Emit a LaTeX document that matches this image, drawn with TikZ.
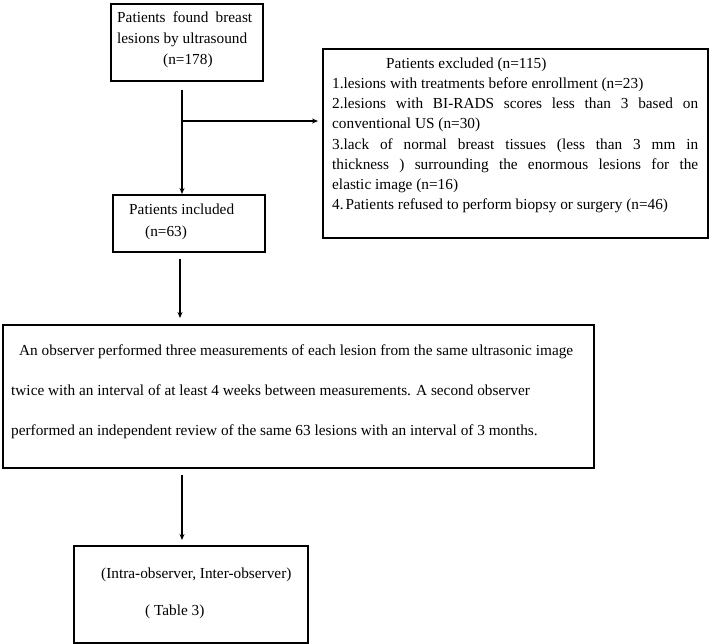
\documentclass[tikz,border=0pt]{standalone}
\usepackage{fontspec}
\setmainfont{Liberation Serif}
\usetikzlibrary{arrows.meta}
\begin{document}
\begin{tikzpicture}[x=1pt,y=-1pt,
  box/.style={draw, line width=1.6pt, inner sep=0pt, anchor=north west},
  txt/.style={inner sep=0pt, anchor=base west, font=\fontsize{15.3}{18}\selectfont},
  arr/.style={line width=1.3pt, -{Stealth[length=6pt,width=5pt]}}]
\useasboundingbox (0,0) rectangle (709,644);
% boxes
\node[box, minimum width=152pt, minimum height=77pt] (b1) at (110,3) {};
\node[box, minimum width=385pt, minimum height=189pt] (ex) at (322,48) {};
\node[box, minimum width=152pt, minimum height=57pt] (b2) at (112,194) {};
\node[box, minimum width=591pt, minimum height=143pt] (b3) at (2,324) {};
\node[box, minimum width=234pt, minimum height=97pt] (b4) at (73,545) {};
% box 1 text
\node[txt] (t11) at (117,23) {\makebox[135pt][s]{Patients found breast}};
\node[txt] (t12) at (117,44) {lesions by ultrasound};
\node[txt] (t13) at (163,65) {(n=178)};
% excluded text
\node[txt] (e0) at (386,69) {Patients excluded (n=115)};
\node[txt] (e1) at (332,89) {1.lesions with treatments before enrollment (n=23)};
\node[txt] (e2) at (332,109) {\makebox[366pt][s]{2.lesions with BI-RADS scores less than 3 based on}};
\node[txt] (e3) at (332,129) {conventional US (n=30)};
\node[txt] (e4) at (332,150) {\makebox[366pt][s]{3.lack of normal breast tissues (less than 3 mm in}};
\node[txt] (e5) at (332,170) {\makebox[366pt][s]{thickness ) surrounding the enormous lesions for the}};
\node[txt] (e6) at (332,190) {elastic image (n=16)};
\node[txt] (e7) at (332,210) {4.\kern2pt Patients refused to perform biopsy or surgery (n=46)};
% box 2 text
\node[txt] (t21) at (129,215) {Patients included};
\node[txt] (t22) at (145,237) {(n=63)};
% box 3 text
\node[txt] (t31) at (19,355) {An observer performed three measurements of each lesion from the same ultrasonic image};
\node[txt] (t32) at (11,395) {twice with an interval of at least 4 weeks between measurements. A second observer};
\node[txt] (t33) at (11,435) {performed an independent review of the same 63 lesions with an interval of 3 months.};
% box 4 text
\node[txt] (t41) at (101,578) {(Intra-observer, Inter-observer)};
\node[txt] (t42) at (145,615) {( Table 3)};
% connectors
\coordinate (j) at (182,121);
\coordinate (k) at (180,300);
\coordinate (m) at (182,500);
\draw[arr, shorten <=8pt] (b1.south -| j) -- (b2.north -| j);
\draw[arr, shorten >=4pt] (j) -- (ex.west |- j);
\draw[arr, shorten <=6pt, shorten >=6pt] (b2.south -| k) -- (b3.north -| k);
\draw[arr, shorten <=6pt, shorten >=5pt] (b3.south -| m) -- (b4.north -| m);
\end{tikzpicture}
\end{document}
